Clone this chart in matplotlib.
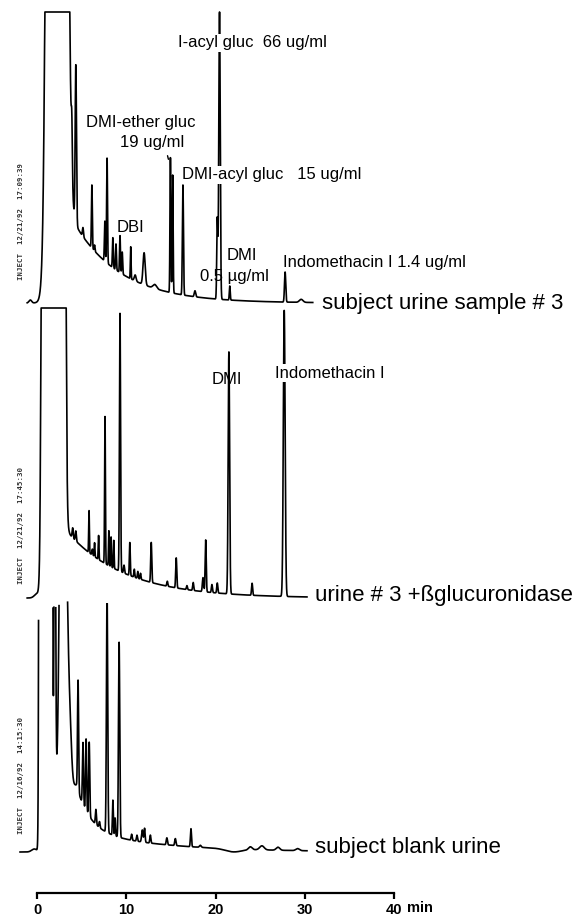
import numpy as np
import matplotlib
matplotlib.use('Agg')
from matplotlib import pyplot as plt

# retention time (min), peak height (detector units), peak sigma (min)
urine_t = [-0.75, 3.9, 4.35, 5.15, 6.15, 6.45, 7.6, 7.85, 8.5, 8.85, 9.3, 9.55, 10.5, 11.0, 12.0, 13.2,
           14.95, 15.2, 16.35, 17.7, 20.2, 20.45, 21.6, 27.8, 29.6]
urine_h = [3, 50, 158, 9, 63, 6, 40, 105, 30, 26, 37, 22, 32, 6, 32, 4,
           135, 118, 110, 6, 80, 288, 14, 30, 3]
urine_w = [0.15, 0.06, 0.07, 0.06, 0.05, 0.05, 0.05, 0.05, 0.05, 0.05, 0.05, 0.05, 0.04, 0.1, 0.12, 0.2,
           0.05, 0.05, 0.06, 0.08, 0.06, 0.08, 0.05, 0.07, 0.2]

gluc_t = [0.0, 4.0, 4.35, 5.83, 6.2, 6.45, 6.9, 7.62, 8.05, 8.3, 8.6, 9.3, 9.75, 10.4, 10.9, 11.3, 11.6,
          12.8, 14.6, 15.6, 16.8, 17.5, 18.6, 18.9, 19.6, 20.2, 21.5, 24.1, 27.7]
gluc_h = [4, 10, 10, 42, 6, 14, 24, 147, 35, 30, 28, 258, 8, 33, 8, 7, 6,
          40, 5, 30, 4, 8, 14, 52, 8, 10, 242, 12, 286]
gluc_w = [0.3, 0.06, 0.06, 0.04, 0.05, 0.04, 0.04, 0.045, 0.04, 0.04, 0.04, 0.06, 0.06, 0.05, 0.05, 0.05, 0.05,
          0.06, 0.06, 0.06, 0.06, 0.06, 0.07, 0.06, 0.06, 0.06, 0.08, 0.06, 0.1]

blank_t = [-0.3, 2.0, 2.75, 3.2, 3.7, 4.6, 5.15, 5.5, 5.85, 6.6, 7.0, 7.85, 8.5, 8.75, 9.2, 10.6, 11.2,
           11.8, 12.05, 12.7, 14.55, 15.5, 17.25, 18.3, 22.0, 23.9, 25.2, 27.0, 29.2]
blank_h = [3, 400, 400, 250, 45, 111, 62, 72, 74, 15, 6, 240, 35, 18, 195, 6, 6,
           12, 14, 8, 7, 7, 18, 2, -3, 3, 4, 3, 2]
blank_w = [0.3, 0.08, 0.22, 0.25, 0.18, 0.06, 0.06, 0.06, 0.06, 0.06, 0.06, 0.07, 0.05, 0.05, 0.07, 0.06, 0.06,
           0.08, 0.06, 0.06, 0.07, 0.07, 0.06, 0.1, 0.9, 0.2, 0.25, 0.2, 0.2]

# solvent front: on, off, edge (min);  tail after front: start, amp1, tau1, amp2, tau2
urine_solvent = (1.0, 3.5, 0.15)
urine_tail = (3.6, 89, 5.3, 0, 1.0)
gluc_solvent = (0.5, 3.2, 0.07)
gluc_tail = (3.6, 64, 6.5, 0, 1.0)
blank_solvent = (0.2, 1.75, 0.03)
blank_tail = (4.4, 45, 1.5, 22, 9.0)

full_scale = [291, 290, 250]
run_start = [-1.1, -1.1, -1.9]
run_end = [30.9, 30.25, 30.25]
offsets = [614, 319, 65]


def sig(x):
    return 1.0 / (1.0 + np.exp(-np.clip(x, -60, 60)))


def chromatogram(t, pt, ph, pw, solvent, tail, clip):
    on, off, edge = solvent
    y = 3 * clip * sig((t - on) / edge) * sig((off - t) / edge)
    t0, a1, tau1, a2, tau2 = tail
    dt = np.maximum(t - t0, 0)
    y = y + sig((t - on) / edge) * (a1 * np.exp(-dt / tau1) + a2 * np.exp(-dt / tau2))
    for c, h, w in zip(pt, ph, pw):
        y = y + h * np.exp(-0.5 * ((t - c) / w) ** 2)
    return y


fig = plt.figure(figsize=(5.83, 9.17), dpi=100)
ax = fig.add_axes([0, 0, 1, 1])
ax.set_xlim(-37 / 8.925, 546 / 8.925)
ax.set_ylim(0, 917)

traces = [(urine_t, urine_h, urine_w, urine_solvent, urine_tail),
          (gluc_t, gluc_h, gluc_w, gluc_solvent, gluc_tail),
          (blank_t, blank_h, blank_w, blank_solvent, blank_tail)]
for i, (pt, ph, pw, solvent, tail) in enumerate(traces):
    t = np.arange(run_start[i], run_end[i], 0.004)
    y = chromatogram(t, pt, ph, pw, solvent, tail, full_scale[i])
    if i == 2:
        y = np.where(y > full_scale[i], np.nan, y)  # pen off scale
    else:
        y = np.minimum(y, full_scale[i])
    ax.plot(t, y + offsets[i], color='black', lw=1.2, zorder=2)

font = 'Liberation Sans'
small = dict(fontsize=12, family=font, va='center', ha='left', zorder=3)
big = dict(fontsize=16, family=font, va='center', ha='left', zorder=3)
white = dict(facecolor='white', edgecolor='none', pad=1.0)

# top trace labels
ax.text(15.8, 874, 'I-acyl gluc  66 ug/ml', bbox=white, **small)
ax.text(5.49, 794, 'DMI-ether gluc', **small)
ax.text(9.3, 775, '19 ug/ml', **small)
ax.annotate('', xy=(14.8, 755), xytext=(14.55, 764), arrowprops=dict(arrowstyle='-', lw=1.0))
ax.text(16.25, 742, 'DMI-acyl gluc   15 ug/ml', bbox=white, **small)
ax.text(8.96, 689, 'DBI', **small)
ax.text(21.3, 662, 'DMI', **small)
ax.text(18.26, 640, '0.5 µg/ml', **small)
ax.text(27.56, 655, 'Indomethacin I 1.4 ug/ml', **small)
ax.text(31.93, 614, 'subject urine sample # 3', **big)

# middle trace labels
ax.text(19.6, 537, 'DMI', **small)
ax.text(26.67, 544, 'Indomethacin I', bbox=white, **small)
ax.text(31.15, 322, 'urine # 3 +ßglucuronidase', **big)

# bottom trace
ax.text(31.15, 70, 'subject blank urine', **big)

stamps = ['INJECT  12/21/92  17:09:39', 'INJECT  12/21/92  17:45:30', 'INJECT  12/16/92  14:15:30']
stamp_y = [695, 391, 141]
for s, yy in zip(stamps, stamp_y):
    ax.text(-1.79, yy, s, rotation=90, fontsize=5.3, family='DejaVu Sans Mono', color='#333333',
            ha='center', va='center', fontweight='bold')

# time axis
for side in ['top', 'left', 'right']:
    ax.spines[side].set_visible(False)
ax.spines['bottom'].set_position(('data', 24))
ax.spines['bottom'].set_bounds(0, 40)
ax.spines['bottom'].set_linewidth(1.6)
ax.set_yticks([])
ax.set_xticks([0, 10, 20, 30, 40])
ax.set_xticklabels(['0', '10', '20', '30', '40'], fontsize=10.5, fontweight='bold', family=font)
ax.tick_params(axis='x', direction='out', length=4, width=1.6, pad=3)
ax.text(42.9, 9, 'min', fontsize=10.5, fontweight='bold', family=font, ha='center', va='center')

fig.savefig('out.png', dpi=100)
